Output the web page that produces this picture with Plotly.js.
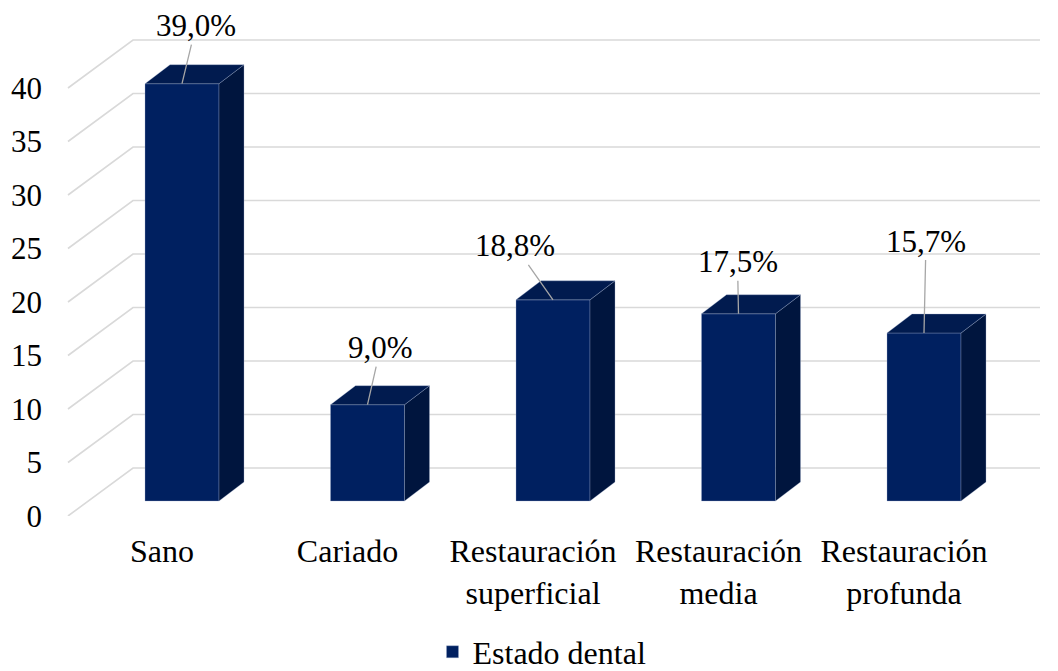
<!DOCTYPE html>
<html>
<head>
<meta charset="utf-8">
<script src="https://cdn.plot.ly/plotly-3.0.1.min.js"></script>
<style>
  html, body { margin: 0; padding: 0; background: #ffffff; }
  #chart { width: 1058px; height: 671px; }
</style>
</head>
<body>
<div id="chart"></div>
<script>
// ---- Data ----
const categories = ["Sano", "Cariado", "Restauración superficial", "Restauración media", "Restauración profunda"];
const values = [39.0, 9.0, 18.8, 17.5, 15.7];
const valueLabels = ["39,0%", "9,0%", "18,8%", "17,5%", "15,7%"];
const yTicks = [0, 5, 10, 15, 20, 25, 30, 35, 40];
const seriesName = "Estado dental";

// ---- Styling / 3D projection constants (pixels) ----
const W = 1058, H = 671;
const M = { l: 60, r: 10, t: 5, b: 155, autoexpand: false };
const PX_X = 185.5;          // pixels per category step
const PX_Y = 10.7;           // pixels per value unit
const CAT0_PX = 162;         // pixel x of first category on the front plane
const plotW = W - M.l - M.r, plotH = H - M.t - M.b;
const xRange = [(M.l - CAT0_PX) / PX_X, (M.l + plotW - CAT0_PX) / PX_X];
const yRange = [0, plotH / PX_Y];

const ox = 20 / PX_X, oy = 15 / PX_Y;     // bar front-plane offset
const bw = 74 / PX_X;                     // bar width
const dx = 25 / PX_X, dy = 19 / PX_Y;     // bar depth
const wx = 65 / PX_X, wy = 48 / PX_Y;     // wall depth
const wallL = (68 - CAT0_PX) / PX_X, wallR = (1040 - CAT0_PX) / PX_X;

const FRONT = "#002060", TOP = "#011B4F", SIDE = "#00153E";
const EDGE = "rgba(160,175,205,0.55)";
const GRID = "#D9D9D9";
const FONT = "Liberation Serif";

// label offsets (text centre relative to the bar's top-front centre), px
const labelOffsets = [[14, -58], [13, -57], [-38, -54], [-1, -52], [2, -92]];

const traces = [];

// gridlines (as shapes beneath the bars): side wall diagonal + back wall horizontal
const shapes = yTicks.map(t => ({
  type: "path", xref: "x", yref: "y", layer: "below",
  path: `M${wallL},${t} L${wallL + wx},${t + wy} L${wallR},${t + wy}`,
  line: { color: GRID, width: 1.6 }
}));

// side and top faces
const sx = [], sy = [], tx = [], ty = [];
values.forEach((v, i) => {
  const xl = i + ox - bw / 2, xr = i + ox + bw / 2;
  sx.push(xr, xr, xr + dx, xr + dx, xr, null);
  sy.push(oy, oy + v, oy + v + dy, oy + dy, oy, null);
  tx.push(xl, xr, xr + dx, xl + dx, xl, null);
  ty.push(oy + v, oy + v, oy + v + dy, oy + v + dy, oy + v, null);
});

// front faces
traces.push({
  type: "bar", name: seriesName,
  x: values.map((_, i) => i + ox), y: values, base: oy, width: bw,
  marker: { color: FRONT, line: { color: EDGE, width: 0.6 } },
  hoverinfo: "skip", showlegend: true
});
traces.push({
  type: "scatter", mode: "lines", x: sx, y: sy, fill: "toself", fillcolor: SIDE,
  line: { color: EDGE, width: 0.6 }, hoverinfo: "skip", showlegend: false
});
traces.push({
  type: "scatter", mode: "lines", x: tx, y: ty, fill: "toself", fillcolor: TOP,
  line: { color: EDGE, width: 0.6 }, hoverinfo: "skip", showlegend: false
});

const annotations = values.map((v, i) => ({
  x: i + ox, y: oy + v, xref: "x", yref: "y",
  text: valueLabels[i], showarrow: true, arrowhead: 0, arrowwidth: 1.3,
  arrowcolor: "#A6A6A6", ax: labelOffsets[i][0], ay: labelOffsets[i][1],
  font: { family: FONT, size: 31, color: "#000000" }, standoff: 0
}));

const layout = {
  width: W, height: H, margin: M,
  paper_bgcolor: "#ffffff", plot_bgcolor: "rgba(0,0,0,0)",
  font: { family: FONT, color: "#000000" },
  barmode: "overlay",
  xaxis: {
    range: xRange, showgrid: false, zeroline: false, showline: false,
    tickmode: "array", tickvals: categories.map((_, i) => i),
    ticktext: categories.map(c => c.replace(" ", "<br>")),
    tickfont: { family: FONT, size: 32, color: "#000000" },
    ticks: "", ticklabelstandoff: 13, fixedrange: true
  },
  yaxis: {
    range: yRange, showgrid: false, zeroline: false, showline: false,
    tickmode: "array", tickvals: yTicks, ticktext: yTicks.map(String),
    tickfont: { family: FONT, size: 31, color: "#000000" },
    ticks: "", ticklabelstandoff: 17, fixedrange: true
  },
  showlegend: true,
  legend: {
    orientation: "h", x: (542 - M.l) / plotW, xanchor: "center",
    y: -(652 - (H - M.b)) / plotH, yanchor: "middle",
    font: { family: FONT, size: 32, color: "#000000" },
    bgcolor: "rgba(0,0,0,0)"
  },
  shapes: shapes,
  annotations: annotations
};

Plotly.newPlot("chart", traces, layout, { displayModeBar: false, staticPlot: true });
</script>
</body>
</html>
